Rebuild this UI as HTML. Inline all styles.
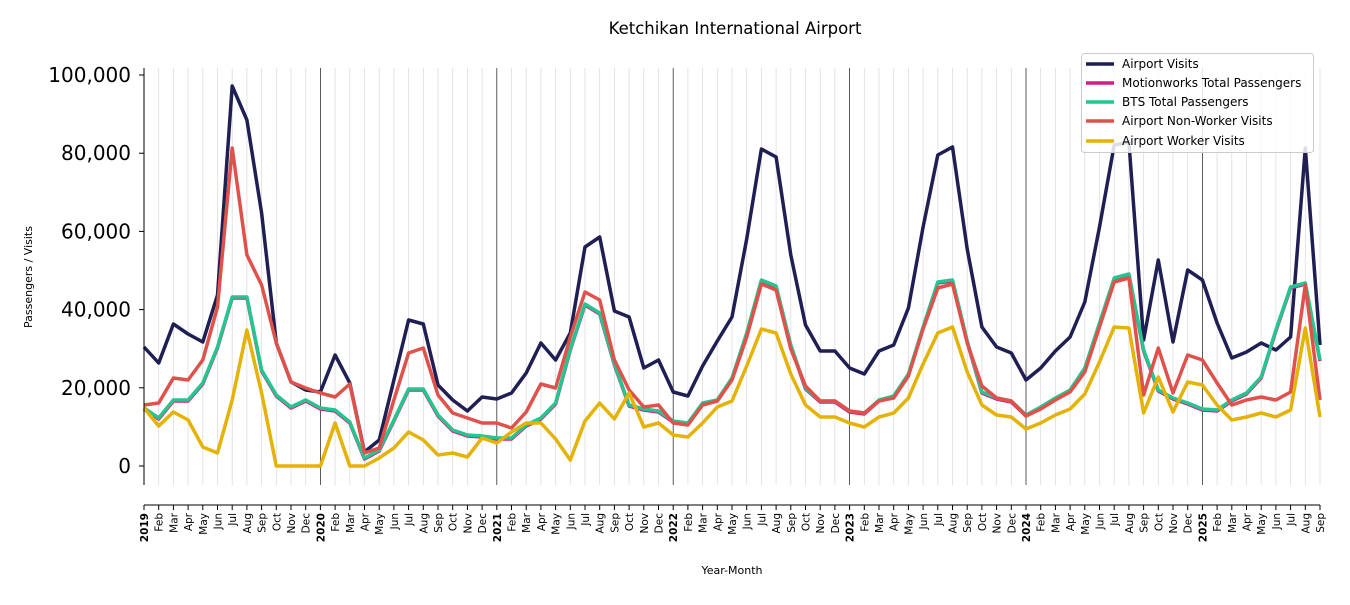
<!DOCTYPE html>
<html><head><meta charset="utf-8"><style>
body{margin:0;background:#fff;}
svg{font-family:"DejaVu Sans","Liberation Sans",sans-serif;}
</style></head><body>
<svg id="s" width="1350" height="600" xmlns="http://www.w3.org/2000/svg">
<text x="735" y="34" text-anchor="middle" font-size="16.5">Ketchikan International Airport</text>
<text transform="translate(32,277) rotate(-90)" text-anchor="middle" font-size="11">Passengers / Visits</text>
<text x="732" y="574" text-anchor="middle" font-size="11">Year-Month</text>
<g id="grid"></g>
<g id="series"></g>
<g id="axes"></g>
<g>
<rect x="1081.5" y="53.5" width="232" height="99" rx="3" fill="#fff" fill-opacity="0.85" stroke="#ccc"/>
<line x1="1086" y1="64" x2="1114" y2="64" stroke="#1f1f54" stroke-width="3.5"/><text x="1122" y="68" font-size="12">Airport Visits</text>
<line x1="1086" y1="83" x2="1114" y2="83" stroke="#d81b84" stroke-width="3.5"/><text x="1122" y="87" font-size="12">Motionworks Total Passengers</text>
<line x1="1086" y1="102" x2="1114" y2="102" stroke="#26c48e" stroke-width="3.5"/><text x="1122" y="106" font-size="12">BTS Total Passengers</text>
<line x1="1086" y1="121" x2="1114" y2="121" stroke="#df524c" stroke-width="3.5"/><text x="1122" y="125" font-size="12">Airport Non-Worker Visits</text>
<line x1="1086" y1="141" x2="1114" y2="141" stroke="#e5b208" stroke-width="3.5"/><text x="1122" y="145" font-size="12">Airport Worker Visits</text>
</g>
</svg>
<script>
const NS="http://www.w3.org/2000/svg";
function el(p,t,a,txt){const e=document.createElementNS(NS,t);for(const k in a)e.setAttribute(k,a[k]);if(txt!==undefined)e.textContent=txt;p.appendChild(e);return e;}
const X=i=>144+i*14.7;
const grid=document.getElementById('grid'),axes=document.getElementById('axes'),ser=document.getElementById('series');
const mn=["Jan","Feb","Mar","Apr","May","Jun","Jul","Aug","Sep","Oct","Nov","Dec"];
for(let i=0;i<=80;i++){
 const x=X(i),m=i%12;
 if(m===0&&i>0) el(grid,'line',{x1:x,y1:68,x2:x,y2:485,stroke:'#333','stroke-width':0.8});
 else el(grid,'line',{x1:x,y1:68,x2:x,y2:485,stroke:'#ddd','stroke-width':0.8});
 el(axes,'line',{x1:x,y1:505,x2:x,y2:510,stroke:'#000','stroke-width':1});
 const lab=m===0?String(2019+i/12):mn[m];
 el(axes,'text',{transform:`translate(${x+4},513) rotate(-90)`,'text-anchor':'end','font-size':10.5,'font-weight':m===0?'bold':'normal'},lab);
}
el(axes,'line',{x1:144,y1:68,x2:144,y2:485,stroke:'#000','stroke-width':1});
el(axes,'line',{x1:144,y1:505,x2:1320,y2:505,stroke:'#000','stroke-width':1});
for(let v=0;v<=100000;v+=20000){
 const y=466-v*0.00391;
 el(axes,'line',{x1:139,y1:y,x2:144,y2:y,stroke:'#000'});
 el(axes,'text',{x:131,y:y+7,'text-anchor':'end','font-size':20},v.toLocaleString('en-US'));
}
const navy=[347,363,324,334,342,295,86,120,213,343,382,390,392,355,383,452,440,380,320,324,385,400,411,397,399,393,373,343,360,333,247,237,311,317,368,360,392,396,366,341,317,239,149,157,255,325,351,351,368,374,351,345,308,227,155,147,249,327,347,353,380,368,351,337,302,227,145,142,340,260,342,270,280,323,358,352,343,350,337,148,345];
const red=[405,403,378,380,360,307,148,255,285,343,382,388,393,397,384,453,448,400,353,348,395,413,418,423,423,428,412,384,388,337,292,300,360,390,407,405,423,425,405,401,380,337,284,290,349,386,401,401,411,413,401,398,376,329,288,284,343,386,398,401,416,409,400,392,372,327,282,278,395,348,393,355,360,383,405,400,397,400,392,285,400];
const green=[408,418,400,400,383,347,297,297,370,395,407,400,408,410,422,458,450,420,389,389,415,430,435,436,438,438,425,418,403,349,304,313,364,405,409,411,421,423,403,400,378,333,280,286,345,388,401,401,411,413,400,396,374,327,282,280,341,392,398,401,415,407,398,390,368,323,278,274,350,390,398,403,409,410,400,393,377,330,287,283,360];
const yel=[408,426,412,420,447,453,400,330,393,466,466,466,466,423,466,466,458,448,432,440,455,453,457,438,443,432,423,423,439,460,421,403,419,393,427,423,435,437,423,407,401,366,329,333,374,405,417,417,423,427,417,413,398,364,333,327,372,405,415,417,429,423,415,409,394,362,327,328,413,377,412,382,385,405,420,417,413,417,410,328,417];
const pink=green.map(y=>y+1);
function line(d,c){el(ser,'polyline',{points:d.map((y,i)=>X(i)+','+y).join(' '),fill:'none',stroke:c,'stroke-width':3.5,'stroke-linejoin':'round'});}
line(navy,'#1f1f54');line(pink,'#d81b84');line(green,'#26c48e');line(red,'#df524c');line(yel,'#e5b208');
</script>
</body></html>
